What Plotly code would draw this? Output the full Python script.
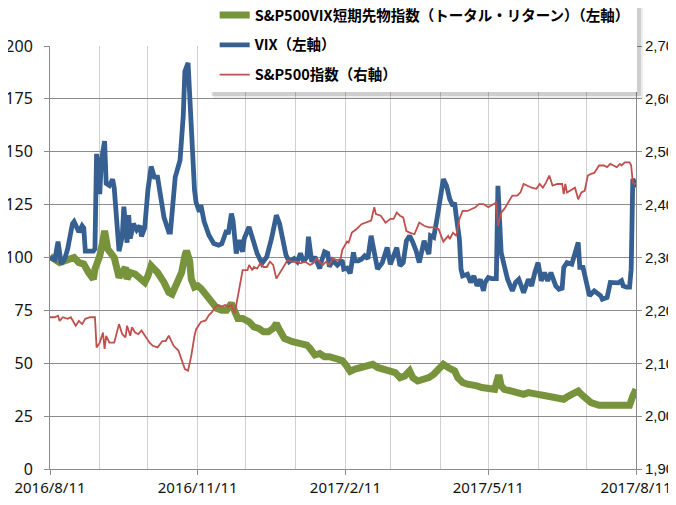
import pandas as pd
import plotly.graph_objects as go

START = "2016-08-11"

# S&P500 VIX short-term futures index (total return), left axis — days since start / value
green_days = [0, 3, 6, 9, 12, 15, 18, 21, 24, 27, 28, 31, 33, 34, 36, 38, 40, 43, 45, 47, 48, 50, 53, 56, 59,
              61, 63, 65, 67, 71, 74, 76, 78, 80, 82, 84, 85, 87, 88, 90, 92, 94, 98, 101, 104, 107, 110, 113,
              115, 117, 120, 124, 127, 130, 133, 136, 139, 141, 143, 146, 151, 154, 157, 160, 162, 165, 168,
              171, 174, 178, 180, 182, 184, 186, 187, 190, 193, 196, 199, 201, 204, 207, 210, 213, 215, 218,
              221, 224, 226, 229, 233, 236, 239, 242, 245, 248, 250, 252, 254, 257, 260, 264, 266, 269, 272,
              274, 277, 279, 280, 281, 283, 287, 291, 295, 298, 301, 304, 307, 311, 316, 320, 323, 326, 329,
              331, 334, 337, 342, 346, 350, 354, 358, 361, 363, 364, 365]
green_vals = [100.5, 99.2, 97.6, 98.4, 99.2, 100, 97.6, 96.9, 92.9, 89.8, 94.5, 100.8, 107.9, 112.6, 103.9,
              102.4, 100, 90.6, 93.7, 95.3, 89.8, 92.9, 92.1, 89.8, 88.2, 91.3, 96.1, 94.5, 92.9, 88.2, 83.5,
              82.7, 86.6, 89.8, 92.9, 100.8, 103.1, 98.4, 89.8, 86, 86.6, 85.4, 81.4, 78.3, 75.9, 75.1, 75.1,
              78.3, 73.5, 71.2, 71.2, 69.6, 67.2, 66.5, 64.9, 64.9, 66.5, 68.8, 65.7, 61.7, 60.2, 59.4, 58.9,
              58.6, 57, 53.9, 54.6, 53.1, 53.1, 52.3, 51.5, 51.3, 49.5, 47.6, 46.2, 47.2, 48, 48.7, 49.5, 49.5,
              48, 47.2, 46.8, 46.4, 45.6, 43.2, 44, 46.4, 43.2, 41.6, 42.4, 43.2, 44.8, 47.2, 49.5, 48, 47.2,
              46.4, 43.2, 40.9, 40.1, 40.1, 39.3, 38.5, 37.9, 37.7, 37.7, 43.2, 43.2, 39.3, 37.7, 36.9, 36.1,
              35.3, 36.1, 36.1, 35.3, 34.9, 34.5, 33.8, 33, 34.5, 35.3, 36.9, 35.3, 33, 31.4, 30.1, 29.8, 30.1,
              30.1, 29.8, 30.1, 34.5, 37.7, 37.7]

# VIX (indexed), left axis
vix_days = [0, 3, 5, 7, 9, 11, 14, 15, 18, 20, 21, 22, 27, 28, 29, 31, 32, 34, 35, 37, 39, 40, 43, 45, 46, 48,
            49, 50, 52, 54, 56, 57, 59, 61, 63, 65, 67, 71, 74, 75, 78, 81, 83, 84, 86, 88, 90, 91, 93, 94, 96,
            99, 102, 105, 107, 110, 111, 113, 114, 116, 118, 120, 121, 124, 126, 129, 132, 135, 138, 141, 143,
            145, 147, 149, 152, 154, 156, 158, 160, 161, 163, 165, 168, 169, 171, 173, 174, 176, 179, 182, 183,
            185, 187, 189, 190, 192, 194, 196, 198, 200, 202, 204, 207, 210, 212, 214, 216, 218, 220, 222, 224,
            226, 228, 230, 233, 234, 236, 237, 239, 241, 243, 245, 247, 249, 251, 252, 253, 255, 256, 257, 260,
            262, 264, 266, 268, 270, 271, 272, 273, 275, 278, 279, 280, 281, 283, 285, 288, 290, 292, 295, 298,
            300, 302, 304, 306, 308, 310, 312, 315, 317, 319, 320, 322, 325, 329, 330, 332, 334, 336, 339, 343,
            344, 347, 349, 352, 354, 356, 357, 359, 361, 362, 363, 364, 365]
vix_vals = [100, 99, 107.5, 97, 99, 104, 116, 117, 112, 115, 114, 103, 103, 104, 149, 130, 146, 155, 135, 134,
            137, 133, 103, 110, 124, 107, 120, 109, 116, 113, 115, 110, 114, 132, 143, 138, 138, 119, 112, 112,
            138, 146, 167, 188, 192, 160, 132, 126, 121.6, 124.7, 117, 110.5, 106.6, 105.8, 106.5, 112.9, 111,
            120.8, 117.6, 101.9, 108.2, 102.7, 109, 114.5, 109, 101.9, 97.2, 100.3, 109, 120, 116, 107.4, 101.1,
            98, 99.5, 98, 101.9, 98, 100.3, 109.8, 98, 100.3, 94.8, 98, 102.7, 102, 95.6, 98.7, 96.4, 98.7,
            94.5, 95, 92.5, 102.4, 98.4, 98.4, 99.2, 100.8, 99.5, 110.3, 100.8, 94.5, 97.6, 104.7, 96.8, 100.8,
            104.7, 96, 97.6, 107.9, 110.3, 107.1, 103.2, 97.6, 107.9, 105.5, 101.6, 110.3, 109.5, 118.1, 129.2,
            137.1, 133.9, 127.6, 124.4, 126, 119.7, 108.7, 94.5, 91.3, 92.1, 88.2, 91.3, 86.6, 89.7, 84.2, 88.2,
            89.7, 90.5, 90, 90, 133.9, 116.6, 102.4, 96, 89.7, 84.2, 88.2, 89.7, 83.4, 89.7, 86.6, 92.9, 97.6,
            89, 92.9, 89, 92.9, 86.6, 85, 85.5, 95.3, 97.6, 96.8, 107.1, 95.3, 95.3, 88.2, 81.9, 84.2, 81.9,
            80.3, 81.1, 88.2, 88.2, 88, 89, 86.6, 86, 86, 94.5, 137.1, 135.5, 133.1]

# S&P500 index, right axis
spx_days = [0, 3, 5, 6, 8, 11, 13, 16, 18, 20, 22, 25, 28, 29, 31, 33, 34, 35, 37, 40, 43, 45, 47, 48, 50, 51,
            53, 55, 57, 59, 62, 64, 67, 70, 72, 74, 77, 80, 82, 84, 86, 88, 90, 91, 92, 94, 97, 99, 101, 103,
            105, 107, 109, 111, 113, 115, 116, 118, 120, 123, 124, 126, 127, 129, 131, 133, 135, 137, 139, 141,
            143, 145, 148, 151, 154, 156, 159, 162, 164, 166, 168, 170, 172, 174, 176, 179, 181, 182, 185, 186,
            188, 191, 194, 197, 200, 202, 203, 206, 209, 212, 214, 216, 218, 220, 222, 224, 227, 230, 233, 236,
            239, 242, 245, 248, 249, 251, 253, 255, 257, 260, 263, 265, 267, 270, 273, 276, 278, 279, 281, 283,
            285, 288, 291, 293, 295, 297, 300, 303, 305, 307, 309, 311, 313, 316, 319, 320, 321, 322, 325, 327,
            329, 331, 333, 335, 337, 339, 342, 345, 347, 349, 351, 353, 355, 356, 358, 361, 362, 363, 364, 365]
spx_vals = [2187, 2187, 2190, 2180, 2187, 2184, 2187, 2171, 2180, 2174, 2184, 2187, 2187, 2130, 2139, 2158,
            2127, 2152, 2139, 2139, 2174, 2155, 2149, 2171, 2152, 2168, 2158, 2155, 2162, 2152, 2139, 2133,
            2130, 2142, 2142, 2152, 2133, 2124, 2108, 2089, 2086, 2114, 2152, 2164, 2169, 2178, 2181, 2191,
            2197, 2207, 2210, 2207, 2210, 2207, 2210, 2194, 2210, 2242, 2276, 2276, 2286, 2276, 2282, 2279,
            2289, 2282, 2282, 2292, 2286, 2260, 2270, 2282, 2295, 2292, 2292, 2289, 2292, 2286, 2289, 2298,
            2292, 2286, 2292, 2286, 2298, 2295, 2297, 2314, 2330, 2328, 2347, 2354, 2363, 2366, 2370, 2395,
            2382, 2379, 2366, 2373, 2373, 2385, 2379, 2376, 2350, 2347, 2344, 2366, 2360, 2357, 2357, 2354,
            2330, 2341, 2335, 2347, 2341, 2373, 2388, 2388, 2392, 2395, 2401, 2401, 2395, 2401, 2404, 2360,
            2385, 2392, 2401, 2417, 2417, 2423, 2439, 2436, 2432, 2430, 2439, 2432, 2442, 2455, 2436, 2439,
            2439, 2420, 2439, 2423, 2429, 2432, 2410, 2423, 2426, 2455, 2458, 2460, 2474, 2474, 2471, 2477,
            2474, 2471, 2477, 2474, 2480, 2480, 2474, 2442, 2439, 2441]

names = ["S&P500VIX短期先物指数（トータル・リターン）（左軸）", "VIX（左軸）", "S&P500指数（右軸）"]
left_ticks = [0, 25, 50, 75, 100, 125, 150, 175, 200]
x_ticks = ["2016-08-11", "2016-11-11", "2017-02-11", "2017-05-11", "2017-08-11"]
x_labels = ["2016/8/11", "2016/11/11", "2017/2/11", "2017/5/11", "2017/8/11"]


def to_dates(days):
    return pd.Timestamp(START) + pd.to_timedelta(days, unit="D")


fig = go.Figure()
fig.add_trace(go.Scatter(x=to_dates(green_days), y=green_vals, name=names[0], mode="lines",
                         line=dict(color="#77933C", width=7), legendgroup="a"))
fig.add_trace(go.Scatter(x=to_dates(vix_days), y=vix_vals, name=names[1], mode="lines",
                         line=dict(color="#376092", width=4.8), legendgroup="b"))
fig.add_trace(go.Scatter(x=to_dates(spx_days), y=spx_vals, name=names[2], mode="lines",
                         line=dict(color="#C0504D", width=1.8), yaxis="y2", legendgroup="c"))

tickfont = dict(family="Noto Sans, Liberation Sans, sans-serif", size=16, color="#111111")
tickfont_x = dict(family="Noto Sans, Liberation Sans, sans-serif", size=15, color="#111111")
tickfont_r = dict(family="Liberation Sans, sans-serif", size=15, color="#111111")

# legend box: soft drop shadow, then white panel (paper coordinates)
fig.add_shape(type="rect", xref="paper", yref="paper", x0=0.279, x1=1.0125, y0=0.876, y1=1.092,
              line=dict(width=0), fillcolor="rgba(0,0,0,0.07)", layer="above")
fig.add_shape(type="rect", xref="paper", yref="paper", x0=0.276, x1=1.0085, y0=0.882, y1=1.097,
              line=dict(width=0), fillcolor="rgba(0,0,0,0.13)", layer="above")
fig.add_shape(type="rect", xref="paper", yref="paper", x0=0.2696, x1=1.0017, y0=0.891, y1=1.104,
              line=dict(width=0), fillcolor="white", layer="above")

fig.update_layout(
    width=676, height=505,
    margin=dict(l=42, r=48, t=38, b=44, autoexpand=False),
    paper_bgcolor="white", plot_bgcolor="white",
    showlegend=True,
    legend=dict(x=0.281, y=1.111, xanchor="left", yanchor="top",
                bgcolor="rgba(0,0,0,0)", borderwidth=0,
                font=dict(family="Noto Sans CJK JP", size=14.5, color="#000000", weight="bold"),
                traceorder="grouped", tracegroupgap=8,
                itemwidth=30),
    xaxis=dict(type="date", range=["2016-08-11", "2017-08-11"],
               tickvals=x_ticks, ticktext=x_labels, automargin=False,
               showgrid=True, gridcolor="#D0D0D0", gridwidth=1,
               minor=dict(dtick="M1", tick0="2016-08-11", showgrid=True, gridcolor="#D0D0D0", gridwidth=1),
               ticks="outside", ticklen=5, tickcolor="#8C8C8C",
               showline=True, linecolor="#8C8C8C", linewidth=1,
               tickfont=tickfont_x, zeroline=False),
    yaxis=dict(range=[0, 200], tickvals=left_ticks, showgrid=True, gridcolor="#8C8C8C", gridwidth=1,
               ticks="outside", ticklen=5, tickcolor="#8C8C8C", ticklabelstandoff=8, automargin=False,
               showline=True, linecolor="#8C8C8C", linewidth=1, zeroline=False,
               tickfont=tickfont),
    yaxis2=dict(range=[1900, 2700], dtick=100, tick0=1900, overlaying="y", side="right",
                showgrid=False, tickformat=",d", automargin=False,
                ticks="outside", ticklen=5, tickcolor="#8C8C8C", ticklabelstandoff=0,
                showline=True, linecolor="#8C8C8C", linewidth=1, zeroline=False,
                tickfont=tickfont_r),
)

fig.write_html("out.html")
